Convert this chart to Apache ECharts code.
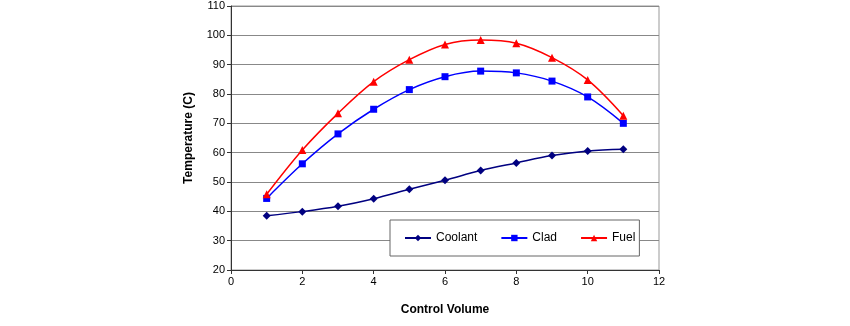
<!DOCTYPE html>
<html>
<head>
<meta charset="utf-8">
<script src="https://cdn.jsdelivr.net/npm/echarts@6/dist/echarts.min.js"></script>
<style>
  html, body { margin: 0; padding: 0; background: #fff; }
  #chart { width: 850px; height: 326px; }
</style>
</head>
<body>
<div id="chart"></div>
<script>
// Temperature profile along the channel, per control volume
const controlVolumes = [1, 2, 3, 4, 5, 6, 7, 8, 9, 10, 11];
const coolant = [38.5, 39.9, 41.7, 44.3, 47.5, 50.6, 53.9, 56.5, 59.0, 60.6, 61.2];
const clad    = [44.4, 56.2, 66.4, 74.8, 81.5, 85.9, 87.8, 87.2, 84.4, 79.0, 70.0];
const fuel    = [45.8, 60.9, 73.4, 84.2, 91.7, 96.9, 98.4, 97.3, 92.4, 84.8, 72.6];

const pairs = ys => controlVolumes.map((x, i) => [x, ys[i]]);
const font = 'Liberation Sans, Arial, sans-serif';

const chart = echarts.init(document.getElementById('chart'), null, { renderer: 'canvas' });

function lineSeries(name, data, color, symbol, size) {
  return {
    name, type: 'line', data: pairs(data), smooth: 0.35,
    symbol, symbolSize: size,
    lineStyle: { color, width: 1.5 },
    itemStyle: { color },
    emphasis: { disabled: true }
  };
}

chart.setOption({
  animation: false,
  grid: { left: 231, right: 191, top: 6, bottom: 56, show: true, borderColor: '#999', borderWidth: 1 },
  xAxis: {
    type: 'value', min: 0, max: 12, interval: 2,
    name: 'Control Volume', nameLocation: 'middle', nameGap: 34,
    nameTextStyle: { fontFamily: font, fontSize: 12, fontWeight: 'bold', color: '#000' },
    axisLine: { show: true, lineStyle: { color: '#333', width: 1 } },
    axisTick: { show: true, length: 4, lineStyle: { color: '#333' } },
    axisLabel: { fontFamily: font, fontSize: 11, color: '#000', margin: 6 },
    splitLine: { show: false }
  },
  yAxis: {
    type: 'value', min: 20, max: 110, interval: 10,
    name: 'Temperature (C)', nameLocation: 'middle', nameGap: 36, nameRotate: 90,
    nameTextStyle: { fontFamily: font, fontSize: 12, fontWeight: 'bold', color: '#000' },
    axisLine: { show: true, lineStyle: { color: '#333', width: 1 } },
    axisTick: { show: true, length: 4, lineStyle: { color: '#333' } },
    axisLabel: { fontFamily: font, fontSize: 11, color: '#000', margin: 6 },
    splitLine: { show: true, lineStyle: { color: '#888', width: 1 } }
  },
  legend: {
    left: 390, top: 220,
    orient: 'horizontal',
    backgroundColor: '#fff', borderColor: '#666', borderWidth: 1,
    padding: [12, 4, 12, 14], itemGap: 23, itemWidth: 26, itemHeight: 8,
    textStyle: { fontFamily: font, fontSize: 12, color: '#000' },
    data: ['Coolant', 'Clad', 'Fuel']
  },
  series: [
    lineSeries('Coolant', coolant, '#000080', 'diamond', 8),
    lineSeries('Clad', clad, '#0000FF', 'rect', 7),
    lineSeries('Fuel', fuel, '#FF0000', 'triangle', 8)
  ]
});
</script>
</body>
</html>
